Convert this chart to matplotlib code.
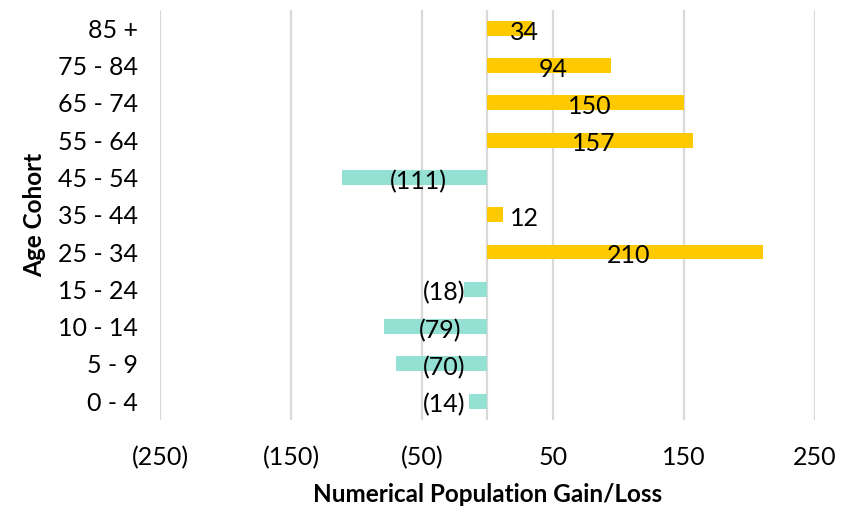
import matplotlib.pyplot as plt

# Age cohorts, bottom to top, and the net change for each
cohorts = ['0 - 4', '5 - 9', '10 - 14', '15 - 24', '25 - 34', '35 - 44',
           '45 - 54', '55 - 64', '65 - 74', '75 - 84', '85 +']
change = [-14, -70, -79, -18, 210, 12, -111, 157, 150, 94, 34]

xticks = [-250, -150, -50, 50, 150, 250]

plt.rcParams['font.family'] = ['Lato', 'DejaVu Sans']

GAIN = '#FFC900'
LOSS = '#94E1D4'
GRID = '#D9D9D9'
FS = 18


def fmt(v):
    return '(%d)' % abs(v) if v < 0 else '%d' % v


fig = plt.figure(figsize=(8.56, 5.07), dpi=100)
ax = fig.add_axes([0.187, 0.172, 0.765, 0.809])

y = range(len(cohorts))
colors = [GAIN if v > 0 else LOSS for v in change]
ax.barh(y, change, height=0.4, color=colors, zorder=2)

# value labels sit near the middle of the bar, pushed away from zero for short bars
for i, v in enumerate(change):
    if v > 0:
        x = max(v / 2 + 3, 28)
    else:
        x = min(v / 2 + 3, -33)
    ax.text(x, i - 0.1, fmt(v), ha='center', va='center', fontsize=FS, zorder=3)

ax.set_xlim(-250, 250)
ax.set_ylim(-0.5, len(cohorts) - 0.5)
ax.set_xticks(xticks)
ax.set_xticklabels([fmt(t) for t in xticks])
ax.set_yticks(list(y))
ax.set_yticklabels(cohorts)
ax.tick_params(length=0, labelsize=FS, pad=16)
ax.tick_params(axis='x', pad=19)

for t in xticks:
    ax.axvline(t, color=GRID, lw=1.6, zorder=1)
ax.axvline(0, color=GRID, lw=1.6, zorder=1)

for s in ax.spines.values():
    s.set_visible(False)

ax.set_xlabel('Numerical Population Gain/Loss', fontsize=17.5, fontweight='bold', labelpad=10)
ax.set_ylabel('Age Cohort', fontsize=17.5, fontweight='bold', labelpad=8)

fig.savefig('out.png', dpi=100)
